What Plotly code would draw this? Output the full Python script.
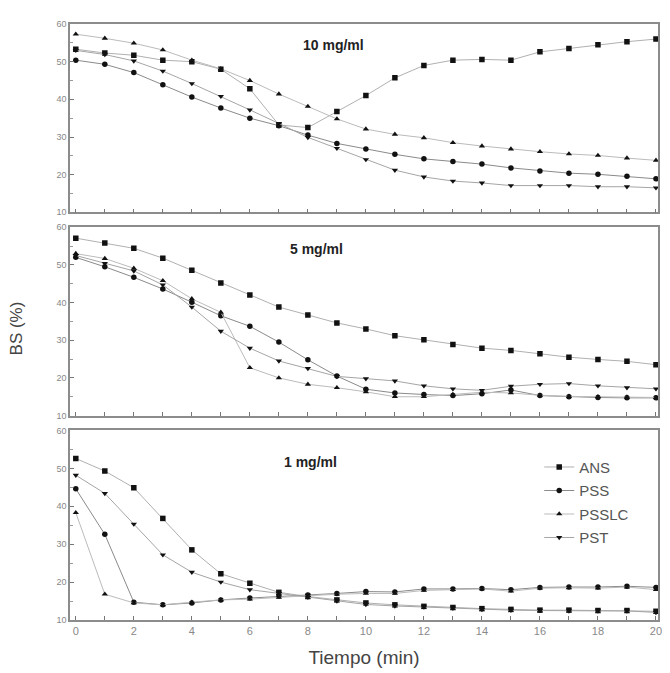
import plotly.graph_objects as go
from plotly.subplots import make_subplots

tiempo = list(range(0, 21))
series_names = ["ANS", "PSS", "PSSLC", "PST"]
panel_titles = ["10 mg/ml", "5 mg/ml", "1 mg/ml"]

# 10 mg/ml
ans_10 = [53.3, 52.3, 51.7, 50.4, 50.0, 48.0, 42.8, 33.2, 32.5, 36.8, 41.0, 45.7, 49.0, 50.4, 50.6, 50.4, 52.6, 53.5, 54.5, 55.3, 56.0]
pss_10 = [50.4, 49.3, 47.1, 43.9, 40.6, 37.7, 35.0, 33.0, 30.5, 28.3, 26.8, 25.4, 24.2, 23.5, 22.8, 21.8, 21.0, 20.4, 20.1, 19.6, 18.9]
psslc_10 = [57.3, 56.2, 54.9, 53.1, 50.4, 48.1, 45.0, 41.4, 38.1, 34.8, 32.1, 30.7, 29.8, 28.5, 27.6, 26.8, 26.1, 25.5, 25.1, 24.4, 23.8]
pst_10 = [53.0, 51.9, 50.2, 47.5, 44.2, 40.8, 37.2, 33.6, 29.9, 27.0, 24.0, 21.2, 19.4, 18.3, 17.8, 17.1, 17.1, 17.1, 16.8, 16.8, 16.5]

# 5 mg/ml
ans_5 = [57.1, 55.8, 54.4, 51.8, 48.6, 45.2, 42.0, 38.8, 36.7, 34.6, 33.0, 31.2, 30.1, 28.9, 27.9, 27.3, 26.4, 25.5, 24.9, 24.4, 23.5]
pss_5 = [52.0, 49.5, 46.7, 43.6, 40.1, 36.5, 33.7, 29.5, 24.8, 20.5, 17.0, 16.0, 15.6, 15.3, 15.8, 16.8, 15.3, 15.0, 14.8, 14.7, 14.7]
psslc_5 = [53.0, 51.7, 49.1, 45.8, 41.0, 37.4, 22.7, 20.0, 18.3, 17.4, 16.3, 15.0, 15.0, 15.6, 16.2, 16.0, 15.4, 15.1, 15.0, 14.9, 14.8]
pst_5 = [52.5, 50.4, 48.4, 44.7, 38.8, 32.4, 27.9, 24.5, 22.5, 20.4, 19.8, 19.2, 17.9, 17.1, 16.7, 17.8, 18.3, 18.5, 17.9, 17.4, 17.1]

# 1 mg/ml
ans_1 = [52.6, 49.3, 44.9, 36.8, 28.5, 22.2, 19.7, 17.3, 16.2, 15.3, 14.5, 14.0, 13.6, 13.3, 13.0, 12.8, 12.6, 12.6, 12.5, 12.5, 12.3]
pss_1 = [44.6, 32.6, 14.7, 14.0, 14.5, 15.3, 15.8, 16.3, 16.6, 17.0, 17.5, 17.4, 18.2, 18.2, 18.3, 18.0, 18.6, 18.7, 18.7, 18.9, 18.6]
psslc_1 = [38.3, 16.8, 14.5, 14.0, 14.7, 15.3, 15.5, 16.0, 16.4, 16.8, 17.0, 17.0, 17.8, 18.0, 18.2, 17.6, 18.4, 18.5, 18.4, 18.7, 18.0]
pst_1 = [48.2, 43.4, 35.3, 27.2, 22.6, 20.0, 18.0, 17.0, 16.0, 15.0, 14.1, 13.7, 13.4, 13.1, 12.8, 12.6, 12.5, 12.4, 12.4, 12.4, 12.0]

x_tick_labels = ["0", "", "2", "", "4", "", "6", "", "8", "", "10", "", "12", "", "14", "", "16", "", "18", "", "20"]
y_tick_vals = [10, 20, 30, 40, 50, 60]

panels = [
    [ans_10, pss_10, psslc_10, pst_10],
    [ans_5, pss_5, psslc_5, pst_5],
    [ans_1, pss_1, psslc_1, pst_1],
]
symbols = ["square", "circle", "triangle-up", "triangle-down"]
line_colors = ["#b0b0b0", "#8a8a8a", "#bbbbbb", "#a5a5a5"]

fig = make_subplots(rows=3, cols=1, vertical_spacing=0.025)

for r, data in enumerate(panels, start=1):
    for name, vals, sym, lc in zip(series_names, data, symbols, line_colors):
        fig.add_trace(go.Scatter(
            x=tiempo, y=vals, name=name, mode="lines+markers",
            line=dict(color=lc, width=1),
            marker=dict(symbol=sym, size=5.5, color="#111111"),
            showlegend=(r == 3), legendgroup=name,
        ), row=r, col=1)

domains = [[0.684, 1.0], [0.343, 0.659], [0.0, 0.318]]
for r in range(1, 4):
    xa = "xaxis" if r == 1 else f"xaxis{r}"
    ya = "yaxis" if r == 1 else f"yaxis{r}"
    fig.layout[xa].update(
        range=[-0.2, 20.07], tickvals=tiempo, ticktext=x_tick_labels,
        showticklabels=(r == 3), ticks="inside", ticklen=4, tickcolor="#777",
        showline=True, mirror=True, linecolor="#8c8c8c", linewidth=1.5,
        showgrid=False, zeroline=False,
        tickfont=dict(family="Liberation Sans", size=11, color="#888"),
    )
    fig.layout[ya].update(
        domain=domains[r - 1], range=[10, 60], tickvals=y_tick_vals,
        ticks="inside", ticklen=4, tickcolor="#777",
        minor=dict(tickvals=[15, 25, 35, 45, 55], ticks="inside", ticklen=3, tickcolor="#999"),
        showline=True, mirror=True, linecolor="#8c8c8c", linewidth=1.5,
        showgrid=False, zeroline=False,
        tickfont=dict(family="Liberation Sans", size=9, color="#888"),
    )

title_pos = [(8.9, 54.4), (8.3, 54.2), (8.1, 51.8)]
for r, (t, (tx, ty)) in enumerate(zip(panel_titles, title_pos), start=1):
    fig.add_annotation(text=f"<b>{t}</b>", x=tx, y=ty, xref=f"x{'' if r == 1 else r}",
                       yref=f"y{'' if r == 1 else r}", showarrow=False,
                       font=dict(family="Liberation Sans", size=14, color="#222"))

fig.layout.xaxis3.title = dict(text="Tiempo (min)", font=dict(family="Liberation Sans", size=19, color="#444"), standoff=15)
fig.add_annotation(text="BS (%)", x=-0.091, y=0.49, xref="paper", yref="paper", textangle=-90,
                   xanchor="center", yanchor="middle",
                   showarrow=False, font=dict(family="Liberation Sans", size=17, color="#444"))

fig.update_layout(
    width=662, height=665,
    margin=dict(l=62, r=8, t=16, b=51),
    plot_bgcolor="white", paper_bgcolor="white",
    legend=dict(x=0.798, y=0.284, xanchor="left", yanchor="top", bgcolor="rgba(0,0,0,0)",
                font=dict(family="Liberation Sans", size=15, color="#555"), tracegroupgap=1),
)

fig.write_html("out.html")
